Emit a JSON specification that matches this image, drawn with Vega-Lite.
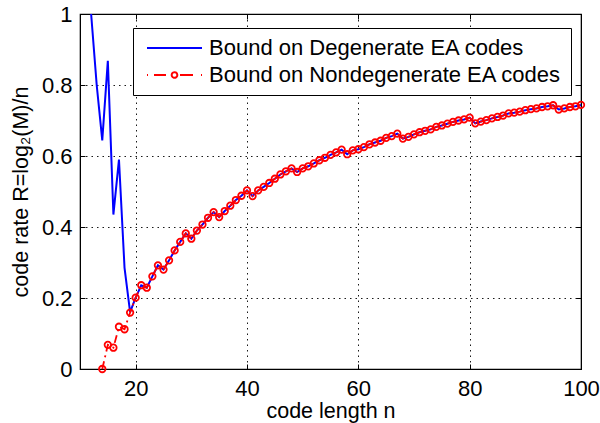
{
  "$schema": "https://vega.github.io/schema/vega-lite/v6.json",
  "autosize": {"type": "none"},
  "padding": {"left": 80, "top": 14, "right": 19, "bottom": 54},
  "width": 501,
  "height": 355,
  "background": "white",
  "config": {
    "font": "Liberation Sans",
    "view": {"stroke": "black", "strokeWidth": 1.2},
    "axis": {
      "labelFont": "Liberation Sans", "titleFont": "Liberation Sans",
      "labelFontSize": 22, "titleFontSize": 21.5, "labelColor": "black", "titleColor": "black",
      "titleFontWeight": "normal", "domainColor": "black", "tickColor": "black", "labelFlush": false,
      "gridColor": "#000000", "gridDash": [1.5, 4], "gridWidth": 1, "gridOpacity": 0.9
    }
  },
  "data": {"values": [
    {"n":12,"d":1.0,"nd":null},{"n":13,"d":0.80,"nd":null},{"n":14,"d":0.644,"nd":0.0},
    {"n":15,"d":0.868,"nd":0.068},{"n":16,"d":0.435,"nd":0.060},{"n":17,"d":0.590,"nd":0.119},
    {"n":18,"d":0.285,"nd":0.112},{"n":19,"d":0.16,"nd":0.159},{"n":20,"d":0.201,"nd":0.201},
    {"n":21,"d":0.236,"nd":0.236},{"n":22,"d":0.229,"nd":0.229},{"n":23,"d":0.261,"nd":0.261},
    {"n":24,"d":0.292,"nd":0.292},{"n":25,"d":0.280,"nd":0.280},{"n":26,"d":0.306,"nd":0.306},
    {"n":27,"d":0.334,"nd":0.334},{"n":28,"d":0.358,"nd":0.358},{"n":29,"d":0.382,"nd":0.382},
    {"n":30,"d":0.367,"nd":0.367},{"n":31,"d":0.390,"nd":0.390},{"n":32,"d":0.407,"nd":0.407},
    {"n":33,"d":0.426,"nd":0.426},{"n":34,"d":0.442,"nd":0.442},{"n":35,"d":0.428,"nd":0.428},
    {"n":36,"d":0.445,"nd":0.445},{"n":37,"d":0.460,"nd":0.460},{"n":38,"d":0.476,"nd":0.476},
    {"n":39,"d":0.488,"nd":0.488},{"n":40,"d":0.503,"nd":0.503},{"n":41,"d":0.487,"nd":0.487},
    {"n":42,"d":0.503,"nd":0.503},{"n":43,"d":0.513,"nd":0.513},{"n":44,"d":0.524,"nd":0.524},
    {"n":45,"d":0.536,"nd":0.536},{"n":46,"d":0.548,"nd":0.548},{"n":47,"d":0.557,"nd":0.557},
    {"n":48,"d":0.565,"nd":0.565},{"n":49,"d":0.555,"nd":0.555},{"n":50,"d":0.565,"nd":0.565},
    {"n":51,"d":0.571,"nd":0.571},{"n":52,"d":0.579,"nd":0.579},{"n":53,"d":0.588,"nd":0.588},
    {"n":54,"d":0.595,"nd":0.595},{"n":55,"d":0.603,"nd":0.603},{"n":56,"d":0.610,"nd":0.610},
    {"n":57,"d":0.618,"nd":0.618},{"n":58,"d":0.605,"nd":0.605},{"n":59,"d":0.616,"nd":0.616},
    {"n":60,"d":0.619,"nd":0.619},{"n":61,"d":0.625,"nd":0.625},{"n":62,"d":0.633,"nd":0.633},
    {"n":63,"d":0.638,"nd":0.638},{"n":64,"d":0.643,"nd":0.643},{"n":65,"d":0.651,"nd":0.651},
    {"n":66,"d":0.656,"nd":0.656},{"n":67,"d":0.663,"nd":0.663},{"n":68,"d":0.649,"nd":0.649},
    {"n":69,"d":0.654,"nd":0.654},{"n":70,"d":0.661,"nd":0.661},{"n":71,"d":0.667,"nd":0.667},
    {"n":72,"d":0.671,"nd":0.671},{"n":73,"d":0.675,"nd":0.675},{"n":74,"d":0.682,"nd":0.682},
    {"n":75,"d":0.686,"nd":0.686},{"n":76,"d":0.691,"nd":0.691},{"n":77,"d":0.696,"nd":0.696},
    {"n":78,"d":0.700,"nd":0.700},{"n":79,"d":0.703,"nd":0.703},{"n":80,"d":0.708,"nd":0.708},
    {"n":81,"d":0.692,"nd":0.692},{"n":82,"d":0.697,"nd":0.697},{"n":83,"d":0.701,"nd":0.701},
    {"n":84,"d":0.706,"nd":0.706},{"n":85,"d":0.710,"nd":0.710},{"n":86,"d":0.714,"nd":0.714},
    {"n":87,"d":0.720,"nd":0.720},{"n":88,"d":0.722,"nd":0.722},{"n":89,"d":0.725,"nd":0.725},
    {"n":90,"d":0.729,"nd":0.729},{"n":91,"d":0.732,"nd":0.732},{"n":92,"d":0.734,"nd":0.734},
    {"n":93,"d":0.738,"nd":0.738},{"n":94,"d":0.740,"nd":0.740},{"n":95,"d":0.743,"nd":0.743},
    {"n":96,"d":0.731,"nd":0.731},{"n":97,"d":0.734,"nd":0.734},{"n":98,"d":0.738,"nd":0.738},
    {"n":99,"d":0.740,"nd":0.740},{"n":100,"d":0.744,"nd":0.744}
  ]},
  "resolve": {"axis": {"x": "independent", "y": "independent"}},
  "layer": [
    {
      "mark": {"type": "line", "strokeWidth": 2, "clip": true},
      "encoding": {
        "x": {"field": "n", "type": "quantitative", "scale": {"domain": [10, 100], "nice": false, "zero": false},
          "axis": {"orient": "bottom", "values": [20, 40, 60, 80, 100], "title": "code length n",
            "labelFontSize": 22, "titleFontSize": 21.5, "labelFlush": false,
            "tickSize": -5, "labelPadding": 14, "titlePadding": 1, "grid": true, "domain": true}},
        "y": {"field": "d", "type": "quantitative", "scale": {"domain": [0, 1], "nice": false},
          "axis": {"orient": "left", "values": [0, 0.2, 0.4, 0.6, 0.8, 1], "format": "~g", "title": "code rate R=log₂(M)/n",
            "labelFontSize": 22, "titleFontSize": 21.5, "labelFlush": false,
            "tickSize": -5, "labelPadding": 13, "titlePadding": 9, "grid": true, "domain": true}},
        "color": {"datum": "Bound on Degenerate EA codes", "type": "nominal",
          "scale": {"domain": ["Bound on Degenerate EA codes", "Bound on Nondegenerate EA codes"], "range": ["#0000ff", "#ff0000"]},
          "legend": {
            "orient": "none", "legendX": 53, "legendY": 14, "title": null, "direction": "vertical",
            "strokeColor": "black", "fillColor": "white", "padding": 9,
            "labelFont": "Liberation Sans", "labelFontSize": 22, "labelColor": "black", "labelOffset": 45, "labelLimit": 0,
            "symbolSize": 400, "symbolStrokeWidth": 2, "symbolType": "stroke", "rowPadding": 5,
            "encode": {"symbols": {"update": {
              "shape": {"signal": "datum.value === 'Bound on Nondegenerate EA codes' ? 'M-0.6,0H-0.5M0.1,0H1.3M2.7,0H4M4.8,0H4.9M2.43,0A0.28,0.28,0,1,1,1.87,0A0.28,0.28,0,1,1,2.43,0' : 'M-0.6,0H4.9'"},
              "fill": {"value": "transparent"},
              "strokeDash": {"value": [1, 0]}
            }}}
          }}
      }
    },
    {
      "mark": {"type": "line", "strokeWidth": 1.8, "strokeDash": [8, 4, 2, 4]},
      "encoding": {
        "x": {"field": "n", "type": "quantitative", "axis": null},
        "y": {"field": "nd", "type": "quantitative", "axis": null},
        "color": {"datum": "Bound on Nondegenerate EA codes", "type": "nominal"}
      }
    },
    {
      "mark": {"type": "point", "filled": false, "size": 42, "strokeWidth": 1.8, "opacity": 1},
      "encoding": {
        "x": {"field": "n", "type": "quantitative",
          "axis": {"orient": "top", "values": [20, 40, 60, 80, 100], "labels": false, "title": null, "tickSize": -5, "grid": false, "domain": true}},
        "y": {"field": "nd", "type": "quantitative",
          "axis": {"orient": "right", "values": [0, 0.2, 0.4, 0.6, 0.8, 1], "labels": false, "title": null, "tickSize": -5, "grid": false, "domain": true}},
        "color": {"datum": "Bound on Nondegenerate EA codes", "type": "nominal"}
      }
    }
  ]
}
